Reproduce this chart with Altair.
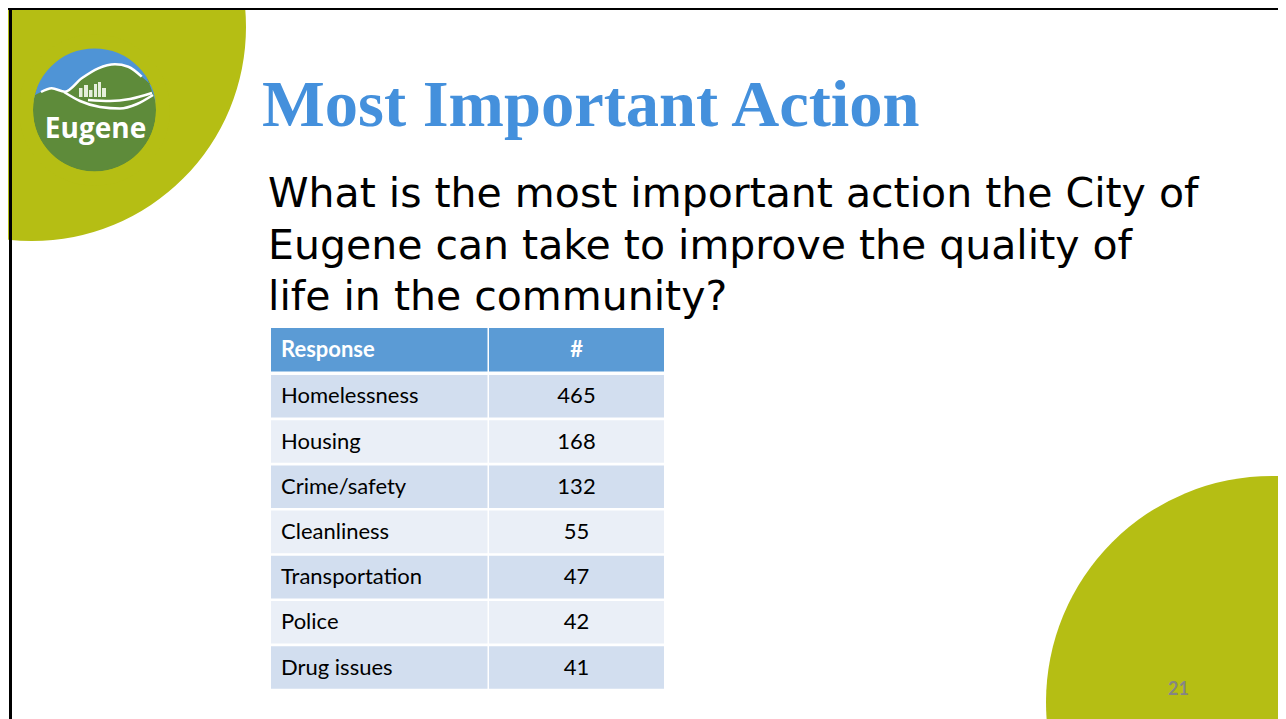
import math
import altair as alt
import pandas as pd

# ---------------- data ----------------
responses = ["Homelessness", "Housing", "Crime/safety", "Cleanliness",
             "Transportation", "Police", "Drug issues"]
counts = [465, 168, 132, 55, 47, 42, 41]
headers = ["Response", "#"]
slide_title = "Most Important Action"
question_lines = ["What is the most important action the City of",
                  "Eugene can take to improve the quality of",
                  "life in the community?"]
logo_word = "Eugene"
page_number = "21"

# ---------------- styles / layout ----------------
OLIVE = "#B5BE14"
TITLE_BLUE = "#4490DC"
HEAD_BLUE = "#5B9BD5"
ROW_DARK = "#D2DEEF"
ROW_LIGHT = "#EAEFF7"
SKY = "#4F94D6"
GREEN = "#5E8B3A"

W, H = 1270, 711
XS = alt.Scale(domain=[8, 8 + W], range=[0, W], zero=False, nice=False)
YS = alt.Scale(domain=[8, 8 + H], range=[0, H], zero=False, nice=False)


def X(f="x"):
    return alt.X(f"{f}:Q", scale=XS, axis=None)


def Y(f="y"):
    return alt.Y(f"{f}:Q", scale=YS, axis=None)


def sym_size(r):
    # Vega circle symbol: radius = sqrt(size) / 2
    return (2 * r) ** 2


# ---------------- background decorations ----------------
bg = pd.DataFrame({"x": [32, 1272], "y": [27, 702],
                   "s": [sym_size(214), sym_size(226)]})
bg_layer = alt.Chart(bg).mark_point(filled=True, shape="circle", opacity=1,
                                    color=OLIVE, strokeWidth=0).encode(
    x=X(), y=Y(), size=alt.Size("s:Q", scale=None, legend=None))

border = pd.DataFrame({"x": [8, 10.5], "x2": [1286, 10.5],
                       "y": [8.5, 8], "y2": [8.5, 719]})
border_layer = alt.Chart(border).mark_rule(color="black", strokeWidth=3).encode(
    x=X(), x2=alt.X2("x2:Q"), y=Y(), y2=alt.Y2("y2:Q"))

# ---------------- logo ----------------
LCX, LCY, LR = 94.5, 110.0, 61.5
logo_circle = alt.Chart(pd.DataFrame({"x": [LCX], "y": [LCY], "s": [sym_size(LR)]})).mark_point(
    filled=True, shape="circle", opacity=1, color=GREEN, strokeWidth=0).encode(
    x=X(), y=Y(), size=alt.Size("s:Q", scale=None, legend=None))

hill_x = [32, 41, 51.7, 65, 81.7, 98.3, 115, 128.3, 141.7, 157]
hill_y = [97, 92, 88.3, 91.7, 78.3, 68.3, 64.3, 66.7, 76.7, 91]
sky_top = [LCY - math.sqrt(max(LR * LR - (hx - LCX) ** 2, 0)) - 4 for hx in hill_x]
sky = pd.DataFrame({"x": hill_x, "y": sky_top, "y2": hill_y})
sky_layer = alt.Chart(sky).mark_area(color=SKY, interpolate="monotone", opacity=1).encode(
    x=X(), y=Y(), y2=alt.Y2("y2:Q"))

ring = alt.Chart(pd.DataFrame({"x": [LCX], "y": [LCY], "s": [sym_size(LR + 7)]})).mark_point(
    filled=False, shape="circle", opacity=1, stroke=OLIVE, strokeWidth=14).encode(
    x=X(), y=Y(), size=alt.Size("s:Q", scale=None, legend=None))

lines = pd.DataFrame({
    "x": hill_x[1:-1] + [64, 80, 100, 120, 137, 153] + [88, 110, 130, 152],
    "y": hill_y[1:-1] + [92, 101, 107, 108.5, 104, 95] + [100, 101, 99, 93],
    "k": ["a"] * (len(hill_x) - 2) + ["b"] * 6 + ["c"] * 4,
})
lines_layer = alt.Chart(lines).mark_line(color="white", strokeWidth=2.5,
                                         interpolate="monotone").encode(
    x=X(), y=Y(), detail="k:N")

bld = pd.DataFrame({"x": [79, 84, 89, 94, 98, 102],
                    "x2": [82.5, 88, 92.5, 97, 101, 106],
                    "y": [88, 85, 90, 84, 82, 88],
                    "y2": [97, 97, 97, 97, 97, 97]})
bld_layer = alt.Chart(bld).mark_rect(color="#E6EEDC").encode(
    x=X(), x2=alt.X2("x2:Q"), y=Y(), y2=alt.Y2("y2:Q"))

logo_text = alt.Chart(pd.DataFrame({"x": [95.5], "y": [137.5], "t": [logo_word]})).mark_text(
    font="Open Sans", fontWeight="bold", fontSize=28, color="white",
    align="center", baseline="alphabetic").encode(x=X(), y=Y(), text="t:N")

# ---------------- title & question ----------------
title_layer = alt.Chart(pd.DataFrame({"x": [262], "y": [126], "t": [slide_title]})).mark_text(
    font="Liberation Serif", fontWeight="bold", fontSize=66.5, color=TITLE_BLUE,
    align="left", baseline="alphabetic").encode(x=X(), y=Y(), text="t:N")

q = pd.DataFrame({"x": [268] * 3, "y": [207, 258.5, 310], "t": question_lines})
question_layer = alt.Chart(q).mark_text(
    font="DejaVu Sans", fontSize=41, color="black",
    align="left", baseline="alphabetic").encode(x=X(), y=Y(), text="t:N")

# ---------------- table ----------------
C0, C1, C2, C3 = 271, 487.5, 489, 664
HEAD_TOP, HEAD_BOT = 328, 371.5
ROW0, PITCH, ROWH = 375, 45.2, 42.6

cells = []
cells.append({"x": C0, "x2": C1, "y": HEAD_TOP, "y2": HEAD_BOT, "f": HEAD_BLUE})
cells.append({"x": C2, "x2": C3, "y": HEAD_TOP, "y2": HEAD_BOT, "f": HEAD_BLUE})
for i, _ in enumerate(responses):
    top = ROW0 + i * PITCH
    fill = ROW_DARK if i % 2 == 0 else ROW_LIGHT
    cells.append({"x": C0, "x2": C1, "y": top, "y2": top + ROWH, "f": fill})
    cells.append({"x": C2, "x2": C3, "y": top, "y2": top + ROWH, "f": fill})
cells = pd.DataFrame(cells)
cells_layer = alt.Chart(cells).mark_rect().encode(
    x=X(), x2=alt.X2("x2:Q"), y=Y(), y2=alt.Y2("y2:Q"),
    color=alt.Color("f:N", scale=None, legend=None))

NUM_X = (C2 + C3) / 2
TXT_X = 281
FS = 22
head = pd.DataFrame({"x": [TXT_X, NUM_X], "y": [(HEAD_TOP + HEAD_BOT) / 2] * 2,
                     "t": headers})
head_left = alt.Chart(head.iloc[[0]]).mark_text(
    font="Lato", fontWeight="bold", fontSize=FS, color="white",
    align="left", baseline="middle").encode(x=X(), y=Y(), text="t:N")
head_right = alt.Chart(head.iloc[[1]]).mark_text(
    font="Lato", fontWeight="bold", fontSize=FS, color="white",
    align="center", baseline="middle").encode(x=X(), y=Y(), text="t:N")

body = pd.DataFrame({
    "resp": responses,
    "n": [str(c) for c in counts],
    "y": [ROW0 + i * PITCH + ROWH / 2 for i in range(len(responses))],
})
body["xl"] = TXT_X
body["xn"] = NUM_X
resp_layer = alt.Chart(body).mark_text(
    font="Lato", fontSize=FS, color="black", align="left", baseline="middle").encode(
    x=X("xl"), y=Y(), text="resp:N")
num_layer = alt.Chart(body).mark_text(
    font="Lato", fontSize=FS, color="black", align="center", baseline="middle").encode(
    x=X("xn"), y=Y(), text="n:N")

page_layer = alt.Chart(pd.DataFrame({"x": [1178.5], "y": [690], "t": [page_number]})).mark_text(
    font="Lato", fontWeight="bold", fontSize=18, color="#858585",
    align="center", baseline="middle").encode(x=X(), y=Y(), text="t:N")

chart = alt.layer(
    bg_layer, border_layer,
    logo_circle, sky_layer, bld_layer, lines_layer, ring, logo_text,
    title_layer, question_layer,
    cells_layer, head_left, head_right, resp_layer, num_layer,
    page_layer,
).properties(
    width=W, height=H, padding=0, background="white",
    autosize=alt.AutoSizeParams(type="none"),
).configure_view(stroke=None)

chart.save("out.html", embed_options={"renderer": "svg", "actions": False})
